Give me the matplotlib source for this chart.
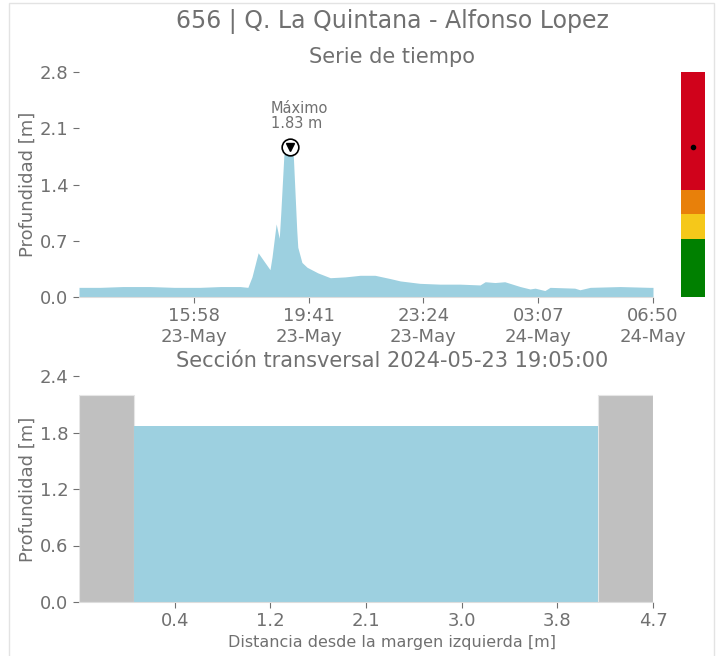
import matplotlib
matplotlib.use("Agg")
import matplotlib.pyplot as plt
import matplotlib.dates as mdates
import numpy as np
import pandas as pd
from matplotlib.patches import Rectangle

# Serie de tiempo (profundidad en metros)
horas = [
    "2024-05-23 12:15", "2024-05-23 12:56", "2024-05-23 13:40", "2024-05-23 14:33",
    "2024-05-23 15:20", "2024-05-23 16:10", "2024-05-23 16:50", "2024-05-23 17:28",
    "2024-05-23 17:43", "2024-05-23 17:51", "2024-05-23 18:03", "2024-05-23 18:26",
    "2024-05-23 18:30", "2024-05-23 18:38", "2024-05-23 18:44", "2024-05-23 18:47",
    "2024-05-23 18:53", "2024-05-23 18:57", "2024-05-23 19:05", "2024-05-23 19:11",
    "2024-05-23 19:18", "2024-05-23 19:20", "2024-05-23 19:28", "2024-05-23 19:38",
    "2024-05-23 19:59", "2024-05-23 20:23", "2024-05-23 20:52", "2024-05-23 21:21",
    "2024-05-23 21:50", "2024-05-23 22:19", "2024-05-23 22:39", "2024-05-23 23:17",
    "2024-05-23 23:56", "2024-05-24 00:35", "2024-05-24 01:14", "2024-05-24 01:24",
    "2024-05-24 01:43", "2024-05-24 02:02", "2024-05-24 02:32", "2024-05-24 02:51",
    "2024-05-24 03:01", "2024-05-24 03:20", "2024-05-24 03:30", "2024-05-24 04:18",
    "2024-05-24 04:28", "2024-05-24 04:48", "2024-05-24 05:46", "2024-05-24 06:44",
    "2024-05-24 06:50",
]
profundidad = [
    0.12, 0.12, 0.13, 0.13,
    0.12, 0.12, 0.13, 0.13,
    0.12, 0.25, 0.55, 0.34,
    0.50, 0.91, 0.73, 1.05,
    1.77, 1.80, 1.83, 1.80,
    0.83, 0.62, 0.43, 0.37,
    0.30, 0.24, 0.25, 0.27,
    0.27, 0.23, 0.20, 0.17,
    0.16, 0.16, 0.15, 0.19,
    0.18, 0.19, 0.13, 0.10,
    0.11, 0.08, 0.12, 0.11,
    0.09, 0.12, 0.13, 0.12,
    0.12,
]

# Umbrales de alerta (limites) y colores
umbrales = [0.0, 0.72, 1.03, 1.33, 2.8]
colores_alerta = ["#008000", "#f5c81a", "#e8800a", "#d0021b"]

# Seccion transversal
nivel_seccion = 1.87
ancho_cauce = 4.2
ancho_muro = 0.5
altura_muro = 2.2

gris = "#707070"
azul = "#9dd0e0"

t = pd.to_datetime(horas)
v = np.array(profundidad)

fig = plt.figure(figsize=(7.21, 6.56), dpi=100)
fig.patches.append(Rectangle((9 / 721, -0.01), 705 / 721, 1.0 - 3 / 656 + 0.01,
                             transform=fig.transFigure, fill=False,
                             edgecolor="#e3e3e3", lw=1))

fig.text(392 / 721, 1 - 22 / 656, "656 | Q. La Quintana - Alfonso Lopez",
         ha="center", va="center", fontsize=17, color=gris)
fig.text(392 / 721, 1 - 57 / 656, "Serie de tiempo",
         ha="center", va="center", fontsize=15, color=gris)
fig.text(392 / 721, 1 - 361 / 656, "Sección transversal 2024-05-23 19:05:00",
         ha="center", va="center", fontsize=15, color=gris)


def estilo(ax):
    for s in ["top", "right", "left"]:
        ax.spines[s].set_visible(False)
    ax.spines["bottom"].set_color("#dddddd")
    ax.tick_params(colors=gris, labelsize=13, length=4)


# --- Serie de tiempo ---
ax1 = fig.add_axes([79 / 721, 1 - 297 / 656, 574 / 721, 225 / 656])
ax1.fill_between(t, 0, v, color=azul, lw=0)
inicio, fin = t[0], t[-1]
ax1.set_xlim(inicio, fin)
ax1.set_ylim(0, 2.8)
ax1.set_yticks(np.linspace(0, 2.8, 5))
ax1.yaxis.set_major_formatter(plt.FormatStrFormatter("%.1f"))
ticks = [inicio + (fin - inicio) * k / 5 for k in range(1, 6)]
ax1.set_xticks(ticks)
ax1.xaxis.set_major_formatter(mdates.DateFormatter("%H:%M\n%d-%b"))
ax1.set_ylabel("Profundidad [m]", color=gris, fontsize=13)
ax1.yaxis.set_label_coords(-0.073, 0.5)
estilo(ax1)

imax = int(np.argmax(v))
ax1.plot(t[imax], v[imax] + 0.04, "o", ms=12, mfc="white", mec="black", mew=1.2)
ax1.plot(t[imax], v[imax] + 0.04, "v", ms=6, color="black")
ax1.annotate(f"Máximo\n{v[imax]:.2f} m", (t[imax], v[imax]),
             xytext=(7, 14), textcoords="offset points", ha="center",
             va="bottom", multialignment="left", fontsize=10.5, color=gris,
             linespacing=1.0)

# --- Barra de alerta ---
axb = fig.add_axes([681 / 721, 1 - 297 / 656, 24 / 721, 225 / 656])
for i, c in enumerate(colores_alerta):
    axb.bar(0, umbrales[i + 1] - umbrales[i], bottom=umbrales[i], width=1,
            color=c, lw=0)
axb.plot(0, nivel_seccion, "o", color="black", ms=3)
axb.set_xlim(-0.5, 0.5)
axb.set_ylim(0, 2.8)
axb.axis("off")

# --- Seccion transversal ---
ax2 = fig.add_axes([79 / 721, 1 - 602 / 656, 574 / 721, 226 / 656])
ax2.bar(-ancho_muro, altura_muro, width=ancho_muro, align="edge", color="#c0c0c0",
        edgecolor="#e6e6e6", lw=0.8)
ax2.bar(ancho_cauce, altura_muro, width=ancho_muro, align="edge", color="#c0c0c0",
        edgecolor="#e6e6e6", lw=0.8)
ax2.bar(0, nivel_seccion, width=ancho_cauce, align="edge", color=azul, lw=0)
x0, x1 = -ancho_muro, ancho_cauce + ancho_muro
ax2.set_xlim(x0, x1)
ax2.set_ylim(0, 2.4)
ax2.set_yticks(np.linspace(0, 2.4, 5))
ax2.set_xticks(np.linspace(x0, x1, 7)[1:])
ax2.xaxis.set_major_formatter(plt.FormatStrFormatter("%.1f"))
ax2.yaxis.set_major_formatter(plt.FormatStrFormatter("%.1f"))
ax2.set_ylabel("Profundidad [m]", color=gris, fontsize=13)
ax2.yaxis.set_label_coords(-0.073, 0.5)
ax2.set_xlabel("Distancia desde la margen izquierda [m]", color=gris, fontsize=11.5)
ax2.xaxis.set_label_coords((392 - 79) / 574, -0.145)
estilo(ax2)

fig.savefig("out.png", dpi=100)
